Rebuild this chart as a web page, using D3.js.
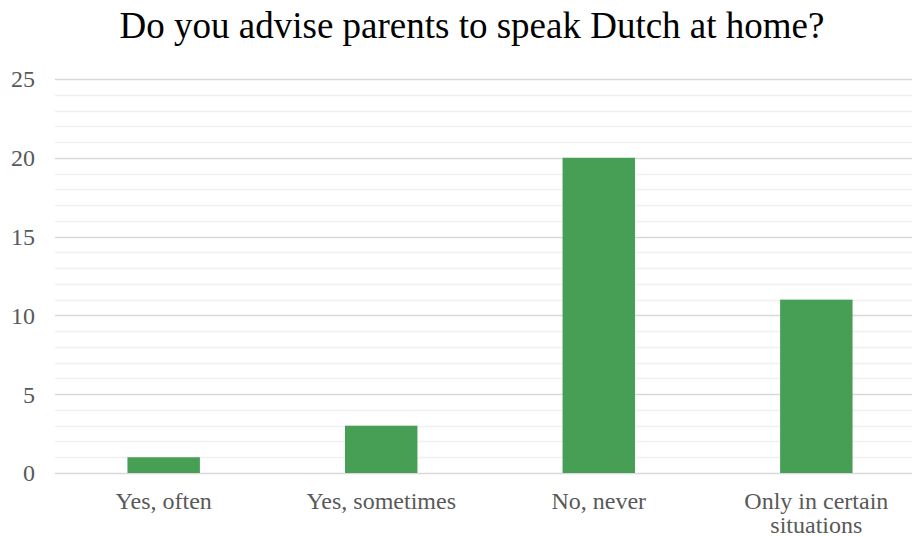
<!DOCTYPE html>
<html>
<head>
<meta charset="utf-8">
<script src="https://cdn.jsdelivr.net/npm/d3@7"></script>
<style>
  body { margin: 0; background: #fff; }
  svg { display: block; font-family: "Liberation Serif", "Times New Roman", serif; }
</style>
</head>
<body>
<script>
// chart data
const categories = ["Yes, often", "Yes, sometimes", "No, never", "Only in certain situations"];
const counts = [1, 3, 20, 11];
const yTicks = [0, 5, 10, 15, 20, 25];

const width = 912,
  height = 537,
  plotLeft = 55,
  plotRight = 925, // plot area runs a bit past the picture edge
  plotTop = 79,
  plotBottom = 473;

const svg = d3.select("body")
  .append("svg")
  .attr("width", width)
  .attr("height", height);

let x = d3.scaleBand()
  .domain(categories)
  .range([plotLeft, plotRight])
  .paddingInner(0.667)
  .paddingOuter(0.333);

let y = d3.scaleLinear()
  .domain([0, 25])
  .range([plotBottom, plotTop]);

// minor gridlines every 1
svg.append("g")
  .selectAll("line")
  .data(d3.range(0, 26).filter(d => d % 5 != 0))
  .enter()
  .append("line")
  .attr("x1", plotLeft)
  .attr("x2", width)
  .attr("y1", d => Math.round(y(d)) + 0.5)
  .attr("y2", d => Math.round(y(d)) + 0.5)
  .attr("stroke", "#f0f0f0")
  .attr("stroke-width", 1.3);

// major gridlines
svg.append("g")
  .selectAll("line")
  .data(yTicks)
  .enter()
  .append("line")
  .attr("x1", plotLeft)
  .attr("x2", width)
  .attr("y1", d => Math.round(y(d)) + 0.5)
  .attr("y2", d => Math.round(y(d)) + 0.5)
  .attr("stroke", "#d9d9d9")
  .attr("stroke-width", 1.3);

// y tick labels
svg.append("g")
  .selectAll("text")
  .data(yTicks)
  .enter()
  .append("text")
  .attr("x", 35)
  .attr("y", d => y(d))
  .attr("dy", "0.35em")
  .attr("text-anchor", "end")
  .attr("fill", "#595959")
  .style("font-size", "24px")
  .text(d => d);

// bars
svg.append("g")
  .selectAll("rect")
  .data(counts)
  .enter()
  .append("rect")
  .attr("x", (d, i) => x(categories[i]))
  .attr("width", x.bandwidth())
  .attr("y", d => y(d))
  .attr("height", d => y(0) - y(d))
  .attr("fill", "#479f55");

// category labels, wrapped like the original
const labelLines = {
  "Only in certain situations": ["Only in certain", "situations"]
};
svg.append("g")
  .selectAll("text")
  .data(categories)
  .enter()
  .append("text")
  .attr("x", d => x(d) + x.bandwidth() / 2)
  .attr("y", 509)
  .attr("text-anchor", "middle")
  .attr("fill", "#595959")
  .style("font-size", "24px")
  .each(function(d) {
    const lines = labelLines[d] || [d];
    d3.select(this).selectAll("tspan")
      .data(lines)
      .enter()
      .append("tspan")
      .attr("x", x(d) + x.bandwidth() / 2)
      .attr("dy", (l, i) => i == 0 ? 0 : 24)
      .text(l => l);
  });

// title
svg.append("text")
  .attr("x", 472)
  .attr("y", 38)
  .attr("text-anchor", "middle")
  .attr("fill", "#000")
  .style("font-size", "37px")
  .text("Do you advise parents to speak Dutch at home?");
</script>
</body>
</html>
